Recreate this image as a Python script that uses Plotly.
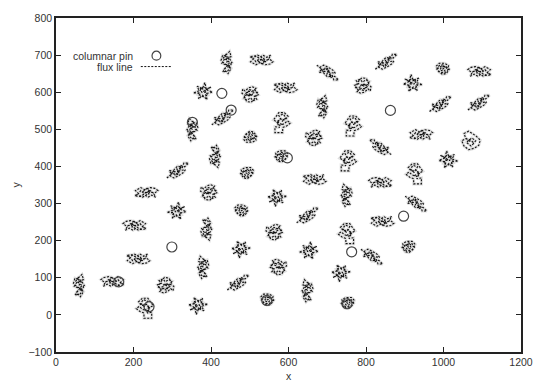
import plotly.graph_objects as go

# ---- data ----
# flux line cluster centres (x, y), the wiggle template used and its mirroring
flux_x = [440, 530, 852, 701, 997, 1093, 791, 920, 380, 502, 592, 687, 992, 1091,
          430, 352, 583, 767, 500, 666, 942, 1069, 837, 410, 583, 754, 1012, 314,
          494, 667, 925, 837, 233, 395, 570, 750, 929, 312, 477, 649, 842, 203,
          388, 564, 750, 477, 653, 815, 911, 212, 380, 573, 735, 59, 146, 282,
          470, 649, 229, 366, 544, 754]
flux_y = [680, 688, 680, 655, 662, 655, 619, 624, 602, 593, 613, 561, 566, 570,
          530, 499, 521, 512, 481, 476, 485, 467, 450, 427, 426, 418, 418, 387,
          381, 366, 383, 356, 329, 329, 316, 322, 302, 280, 280, 266, 253, 240,
          231, 222, 222, 177, 173, 159, 182, 152, 128, 128, 113, 79, 89, 81,
          85, 65, 21, 25, 40, 31]
flux_shape = [4, 1, 5, 5, 7, 1, 0, 3, 3, 0, 1, 4, 5, 5,
              5, 4, 2, 2, 7, 0, 1, 6, 5, 4, 7, 2, 3, 5,
              7, 1, 2, 1, 1, 0, 3, 4, 5, 3, 7, 5, 1, 1,
              4, 0, 2, 3, 3, 5, 7, 1, 4, 0, 3, 4, 1, 0,
              5, 4, 2, 3, 7, 7]
flux_flip_x = [1, 1, 1, 1, 1, -1, 1, 1, -1, -1, 1, 1, 1, 1,
               1, -1, -1, -1, 1, -1, 1, 1, -1, 1, -1, -1, 1, 1,
               -1, 1, 1, -1, 1, -1, 1, -1, 1, -1, 1, 1, 1, -1,
               1, -1, 1, 1, -1, 1, -1, 1, -1, 1, 1, 1, -1, 1,
               1, -1, 1, 1, 1, -1]
flux_flip_y = [1, -1, 1, -1, 1, 1, -1, 1, 1, 1, -1, 1, 1, 1,
               1, 1, 1, 1, -1, 1, 1, 1, 1, -1, 1, 1, 1, 1,
               1, -1, 1, 1, 1, 1, -1, 1, -1, 1, 1, 1, -1, 1,
               -1, 1, 1, -1, 1, -1, 1, -1, 1, 1, -1, 1, 1, -1,
               1, 1, 1, -1, 1, 1]

# columnar pins
pin_x = [428, 452, 352, 863, 597, 897, 763, 299, 162, 240, 544, 751]
pin_y = [597, 552, 519, 551, 423, 266, 170, 183, 89, 22, 39, 30]

x_ticks = [0, 200, 400, 600, 800, 1000, 1200]
y_ticks = [-100, 0, 100, 200, 300, 400, 500, 600, 700, 800]

# hand-drawn wiggle shapes (offsets in data units)
TEMPLATES = [
    [(0,0),(8,6),(2,14),(-8,10),(-14,18),(-4,22),(6,18),(14,10),(20,16),(22,4),(12,-2),
     (18,-10),(8,-14),(0,-8),(-6,-16),(-16,-12),(-10,-4),(-20,0),(-14,8),(-4,4),(4,-4),
     (12,4),(6,10),(-2,8),(-10,14),(-18,6),(-12,-8),(-2,-20),(10,-18),(16,-4),(8,2),(0,-4),(-6,2)],
    [(0,0),(10,6),(20,-2),(30,6),(22,12),(10,14),(-4,8),(-14,14),(-28,6),(-20,-2),(-30,-8),
     (-16,-10),(-6,-4),(4,-12),(14,-6),(24,-12),(18,0),(6,4),(-6,-2),(-14,6),(-22,-4),
     (-10,-12),(0,-6),(10,2),(2,12),(-8,4),(8,-4)],
    [(0,0),(-10,10),(-4,20),(8,16),(2,6),(14,0),(6,-10),(-6,-6),(-14,2),(-22,-4),(-12,-12),
     (-2,-16),(-2,-30),(18,-30),(18,-14),(6,-16),(12,-4),(4,8),(-8,4),(-16,14),(-6,24),
     (8,24),(16,12),(22,4),(10,-2),(0,-8)],
    [(0,0),(-20,12),(-8,6),(-4,24),(2,8),(16,14),(10,2),(26,-4),(8,-4),(12,-20),(2,-10),
     (-10,-22),(-6,-6),(-24,-2),(-10,4),(-2,14),(6,6),(14,-8),(0,-14),(-12,-10),(-4,4),
     (8,10),(4,-2),(-8,-2)],
    [(0,0),(6,10),(-4,18),(8,30),(12,16),(-6,8),(-12,-2),(2,-8),(-6,-18),(4,-30),(12,-16),
     (0,-6),(14,0),(6,14),(-10,20),(-14,6),(-4,-4),(10,-10),(-2,-14),(-10,-26),(4,-22),
     (12,-4),(2,6),(-8,12),(0,24)],
    [(-28,-18),(-16,-8),(-22,2),(-10,0),(-6,-12),(4,-6),(-2,6),(10,6),(6,16),(18,12),(28,22),
     (16,22),(12,10),(0,14),(-8,6),(-16,-6),(-4,-8),(6,2),(20,4),(14,-4),(2,-12),(-10,-18),
     (-20,-12),(-12,-2),(0,0),(8,12)],
    [(0,0),(-12,10),(-16,22),(-4,28),(8,20),(16,14),(26,4),(22,-10),(10,-18),(-4,-22),
     (-16,-12),(-22,2),(-12,8),(0,4),(10,-4),(2,-12),(-10,-2),(4,10),(14,2),(6,-8)],
    [(0,0),(8,4),(2,12),(-8,10),(-14,0),(-6,-8),(6,-10),(14,-2),(16,10),(6,16),(-8,16),
     (-16,8),(-10,-6),(0,-14),(10,-12),(18,0),(8,8),(-2,6),(-6,-2),(4,-6),(12,4),(0,10),(-12,2)],
]

lx, ly = [], []
for cx, cy, t, fx, fy in zip(flux_x, flux_y, flux_shape, flux_flip_x, flux_flip_y):
    for dx, dy in TEMPLATES[t]:
        lx.append(cx + fx * dx)
        ly.append(cy + fy * dy)
    lx.append(None)
    ly.append(None)

fig = go.Figure()
# faint blur under the lines, like the scanned print
fig.add_trace(go.Scatter(x=lx, y=ly, mode="lines", connectgaps=False,
                         line=dict(color="rgba(0,0,0,0.12)", width=3),
                         showlegend=False, hoverinfo="skip"))
fig.add_trace(go.Scatter(x=lx, y=ly, mode="lines", connectgaps=False,
                         line=dict(color="#111111", width=1.1, dash="2px,1.5px"),
                         showlegend=False, hoverinfo="skip"))
fig.add_trace(go.Scatter(x=pin_x, y=pin_y, mode="markers", showlegend=False,
                         marker=dict(symbol="circle-open", size=10,
                                     color="#444444", line=dict(width=1.2, color="#444444"))))

axis_common = dict(showgrid=False, zeroline=False, showline=True, linecolor="#222222",
                   linewidth=1.5, ticks="inside", ticklen=5, tickwidth=1.2,
                   tickcolor="#222222", mirror="ticks")
fig.update_xaxes(range=[0, 1200], tickvals=x_ticks, **axis_common)
fig.update_yaxes(range=[-100, 800], tickvals=y_ticks, **axis_common)

# legend (gnuplot style: text right-aligned, sample to its right)
L, W, B, H = 56, 477, 351, 337
def px(x): return (x - L) / W
def py(y): return (B - y) / H

fig.add_annotation(text="columnar pin", xref="paper", yref="paper", x=px(137.5), y=py(52.5),
                   xanchor="right", yanchor="middle", showarrow=False)
fig.add_annotation(text="flux line", xref="paper", yref="paper", x=px(137.5), y=py(63),
                   xanchor="right", yanchor="middle", showarrow=False)
fig.add_shape(type="circle", xref="paper", yref="paper",
              x0=px(154.5), x1=px(163.5), y0=py(56.5), y1=py(47.5),
              line=dict(color="#444444", width=1.2))
fig.add_shape(type="line", xref="paper", yref="paper",
              x0=px(143), x1=px(175), y0=py(63), y1=py(63),
              line=dict(color="#111111", width=1, dash="2px,1.5px"))

# axis titles
fig.add_annotation(text="x", xref="paper", yref="paper", x=0.5, y=py(375),
                   xanchor="center", yanchor="middle", showarrow=False)
fig.add_annotation(text="y", xref="paper", yref="paper", x=px(14), y=py(182),
                   xanchor="center", yanchor="middle", showarrow=False, textangle=-90)

fig.update_layout(width=545, height=383, margin=dict(l=56, r=12, t=15, b=31),
                  paper_bgcolor="white", plot_bgcolor="white",
                  font=dict(family="Liberation Sans, Arial, sans-serif", size=10.5, color="#333333"))
fig.write_html("out.html")
